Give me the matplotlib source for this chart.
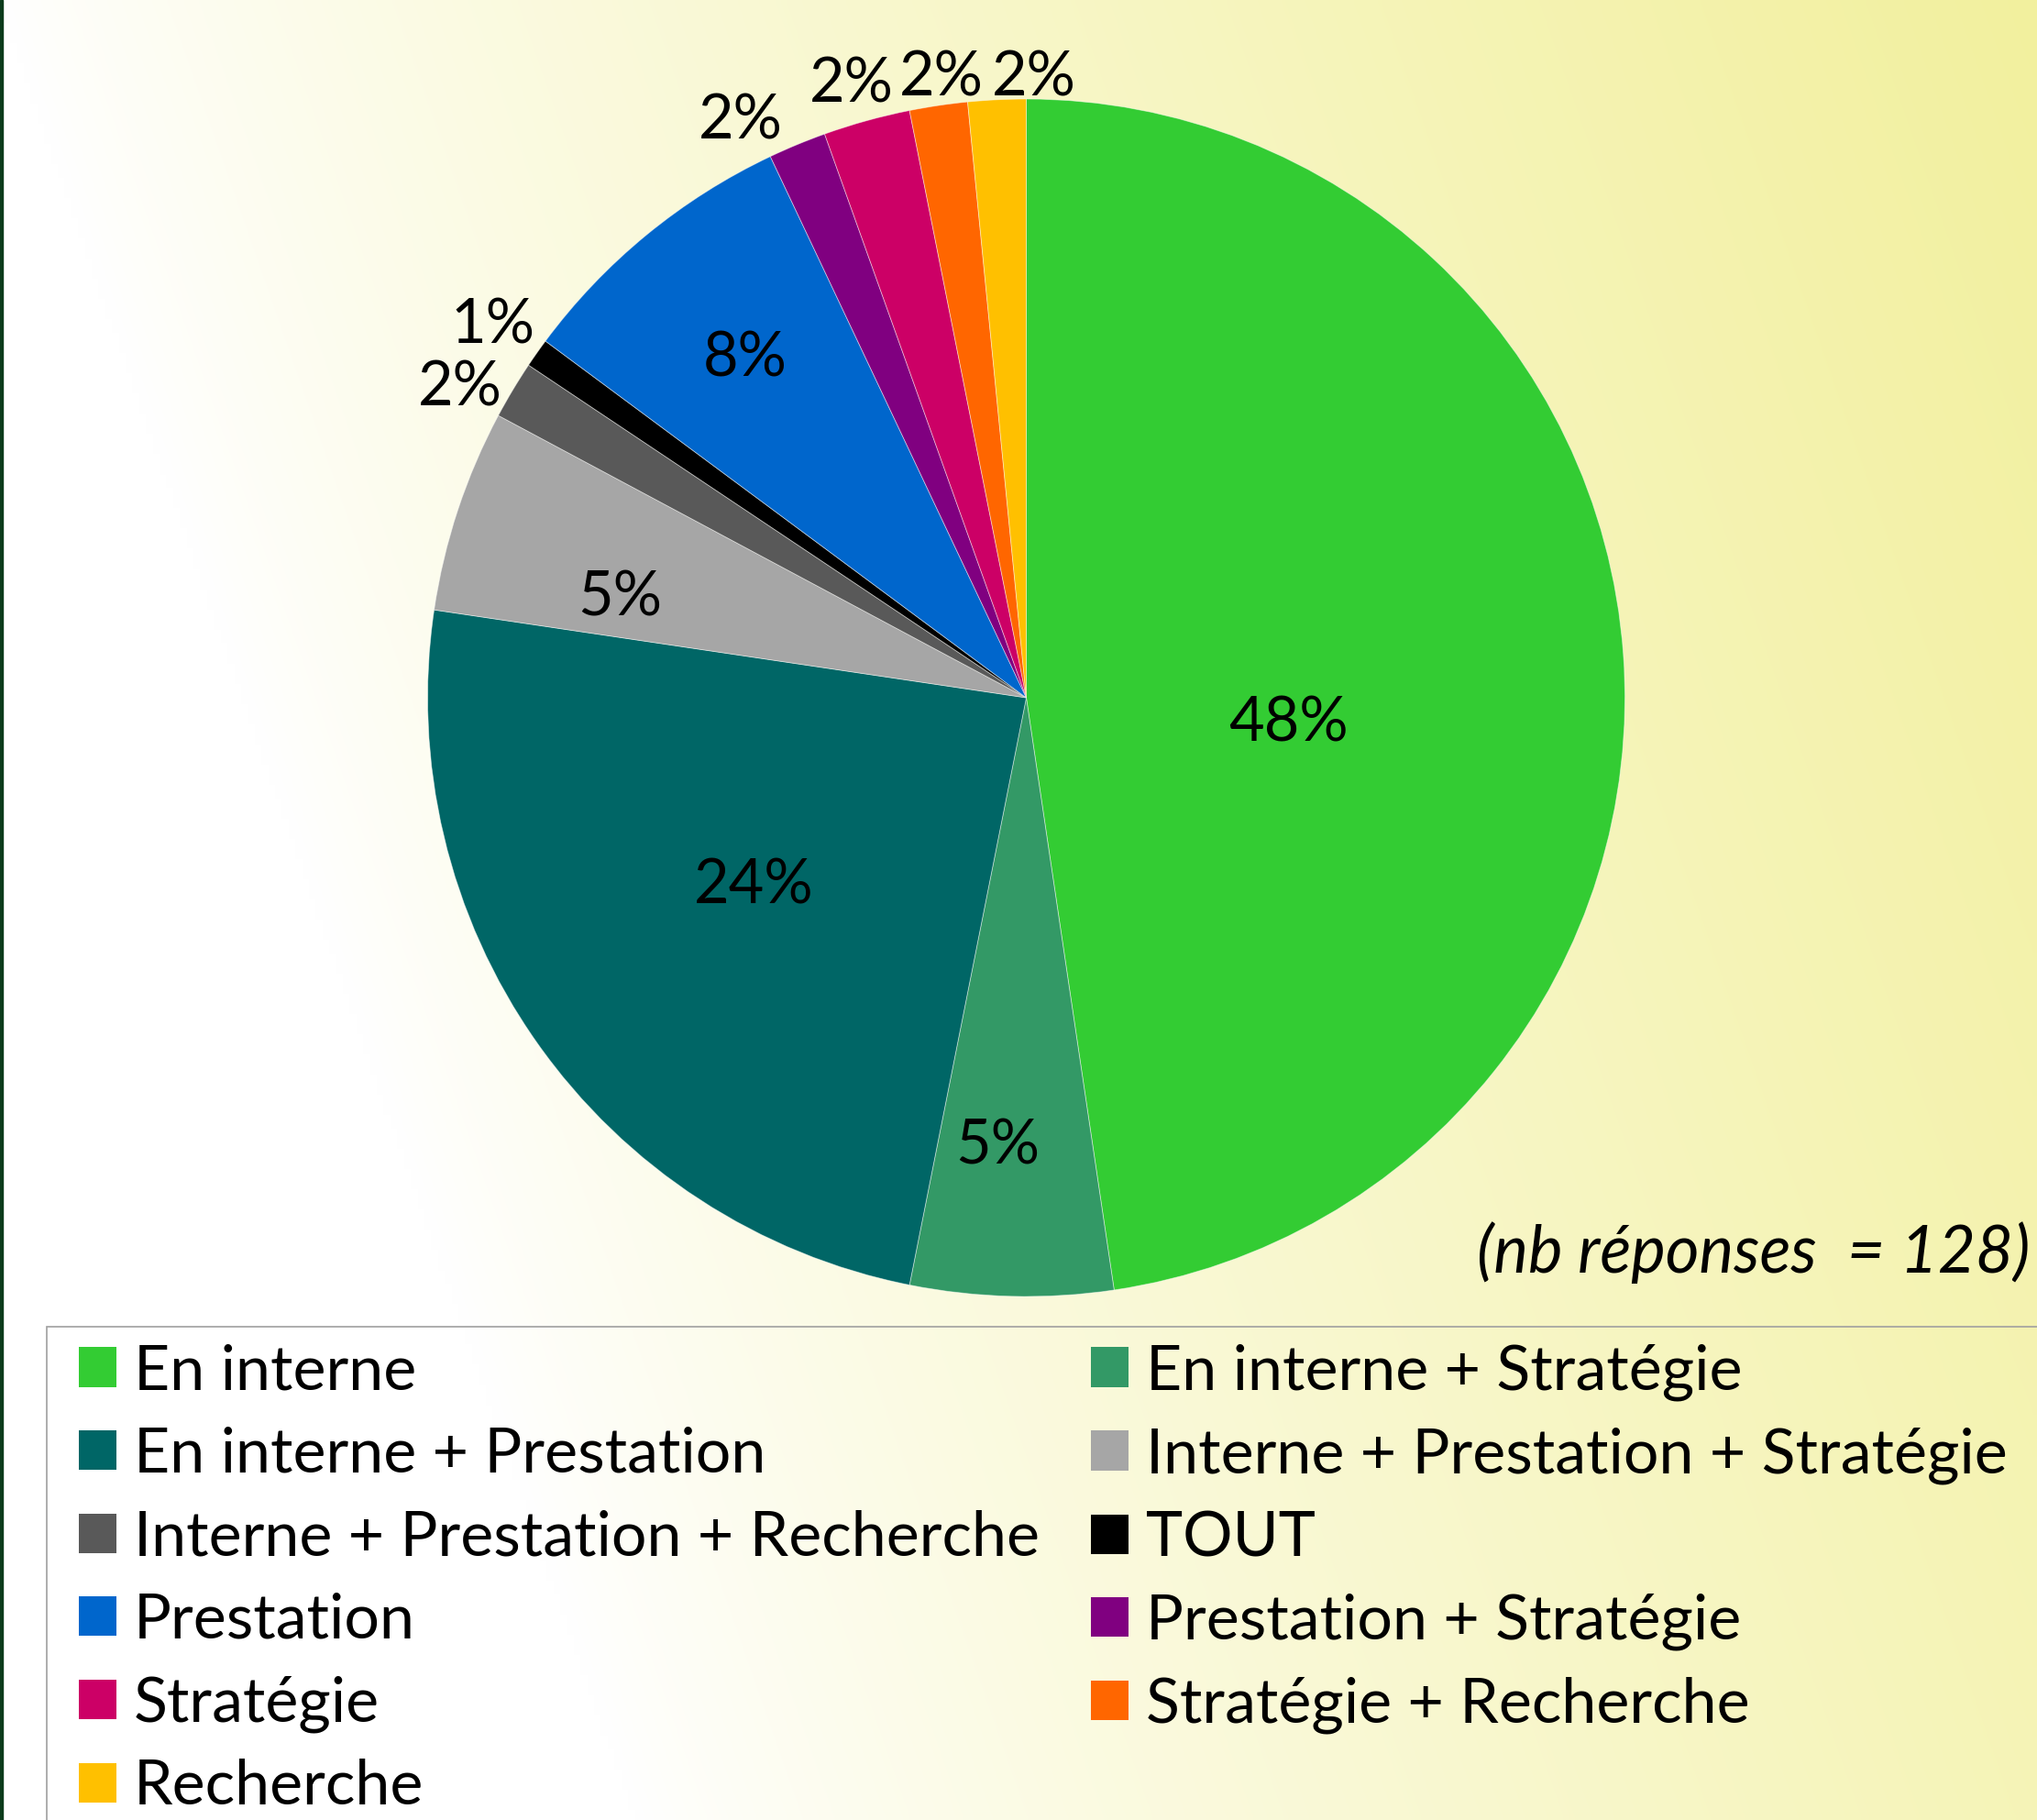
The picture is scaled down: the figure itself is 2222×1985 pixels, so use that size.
import numpy as np
import matplotlib.pyplot as plt
from matplotlib.patches import Patch, Rectangle

# Donnees
labels = ['En interne', 'En interne + Stratégie', 'En interne + Prestation',
          'Interne + Prestation + Stratégie', 'Interne + Prestation + Recherche',
          'TOUT', 'Prestation', 'Prestation + Stratégie', 'Stratégie',
          'Stratégie + Recherche', 'Recherche']
counts = [61, 7, 31, 7, 2, 1, 10, 2, 3, 2, 2]
colors = ['#33CC33', '#339966', '#006666', '#A6A6A6', '#595959', '#000000',
          '#0066CC', '#800080', '#CC0066', '#FF6600', '#FFC000']
note = '(nb réponses  = 128)'

# position des etiquettes (distance radiale, decalage angulaire en degres)
lab_r = [0.44, 0.745, 0.55, 0.70, 1.08, 1.09, 0.74, 1.08, 1.07, 1.05, 1.04]
lab_da = [-9.2, -2.3, -1.1, 4.0, 2.0, 0.0, 0.0, 3.7, 0.4, -0.7, -3.5]

plt.rcParams['font.family'] = ['Lato', 'DejaVu Sans']

W, H = 2222, 1985
fig = plt.figure(figsize=(W / 100, H / 100), dpi=100)

# fond degrade blanc -> jaune
bg = fig.add_axes([0, 0, 1, 1])
xx, yy = np.meshgrid(np.linspace(0, W, 300), np.linspace(0, H, 270))
s = np.clip((xx - 0.35 * yy) / W, 0, 1) ** 0.8
yellow = np.array([242, 240, 158]) / 255
img = 1 + (yellow - 1) * s[..., None]
bg.imshow(img, extent=[0, 1, 0, 1], aspect='auto', interpolation='bilinear')
bg.axis('off')
fig.add_artist(Rectangle((0, 0), 3 / W, 1, transform=fig.transFigure,
                         color='#0B3B1B'))

# camembert
cx, cy, R = 1119.5, 761, 653
ax = fig.add_axes([(cx - R) / W, (H - cy - R) / H, 2 * R / W, 2 * R / H])
ax.set_facecolor('none')
wedges, _ = ax.pie(counts, colors=colors, startangle=90, counterclock=False,
                   wedgeprops=dict(linewidth=0.6, edgecolor=(1, 1, 1, 0.5)))
ax.set_xlim(-1, 1)
ax.set_ylim(-1, 1)
ax.set_aspect('equal')
ax.axis('off')

total = sum(counts)
for w, c, r, da in zip(wedges, counts, lab_r, lab_da):
    ang = np.deg2rad((w.theta1 + w.theta2) / 2 + da)
    ax.text(r * np.cos(ang), r * np.sin(ang) - 0.006, f'{100 * c / total:.0f}%',
            ha='center', va='center', fontsize=48, color='black')

fig.text(2214 / W, 1 - 1366 / H, note, ha='right', va='center',
         fontsize=51, style='italic')

# cadre de la legende (deborde de la figure)
fig.add_artist(Rectangle((51 / W, -0.02), 1.0, 1 - 1447 / H + 0.02,
                         transform=fig.transFigure, facecolor='none',
                         edgecolor='#A0A0A0', linewidth=1.2))

# legende (remplie par lignes)
handles = [Patch(facecolor=col) for col in colors]
order = list(range(0, 11, 2)) + list(range(1, 11, 2))
fig.legend([handles[i] for i in order], [labels[i] for i in order],
           loc='upper left', bbox_to_anchor=(86 / W, 1 - 1465 / H), ncol=2,
           fontsize=49, frameon=False, borderpad=0,
           handlelength=0.6, handleheight=0.6, handletextpad=0.28,
           columnspacing=0.82, labelspacing=0.42, borderaxespad=0)

fig.savefig('out.png', dpi=100)
